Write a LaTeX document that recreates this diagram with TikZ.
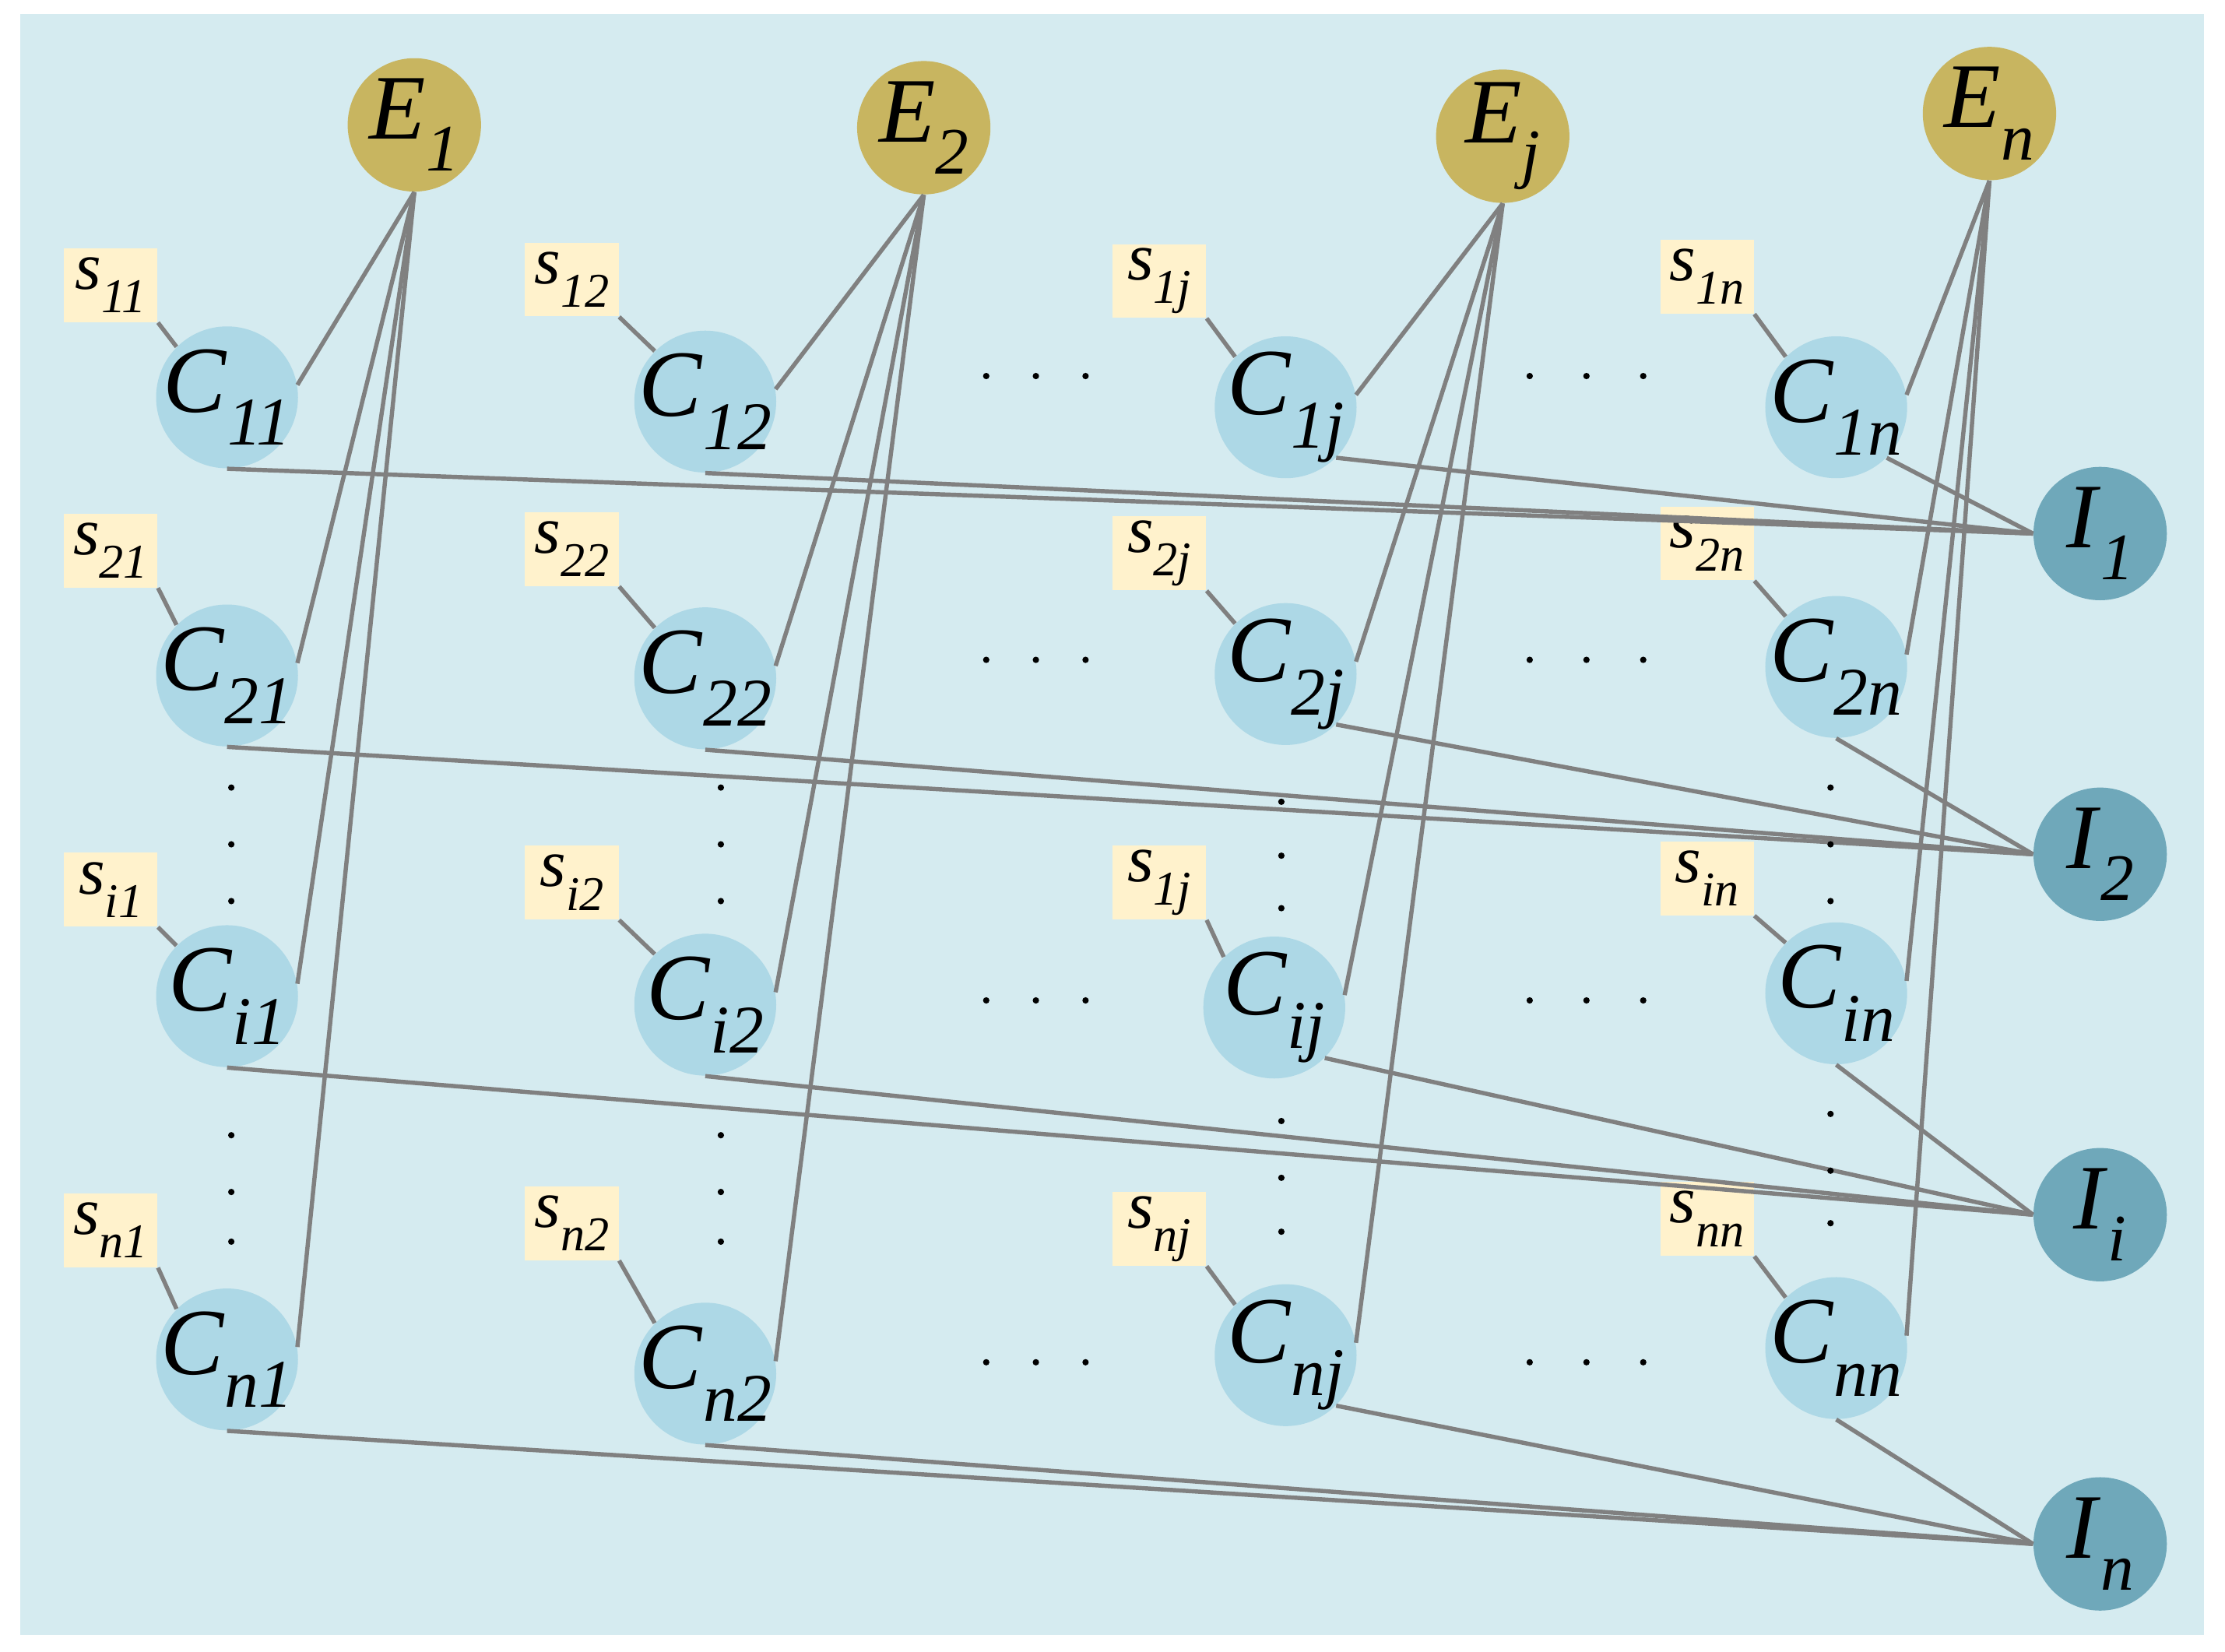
\documentclass[tikz,border=0pt]{standalone}
\usepackage{fontspec}
\setmainfont{Liberation Serif}
\definecolor{bg}{HTML}{D5EBF0}
\definecolor{cc}{HTML}{ADD8E6}
\definecolor{ee}{HTML}{C8B560}
\definecolor{ii}{HTML}{6FA8BA}
\definecolor{ss}{HTML}{FFF2CC}
\definecolor{ln}{HTML}{808080}
\newcommand{\lb}[2]{\textit{#1}\raisebox{-0.35em}{\scalebox{0.72}{\textit{#2}}}}
\begin{document}
\begin{tikzpicture}[x=0.02cm,y=-0.02cm,
 cnode/.style={circle,fill=cc,minimum size=2cm,inner sep=-20pt,font=\fontsize{38}{40}\selectfont},
 enode/.style={circle,fill=ee,minimum size=1.88cm,inner sep=-20pt,font=\fontsize{37}{39}\selectfont},
 inode/.style={circle,fill=ii,minimum size=1.88cm,inner sep=-20pt,font=\fontsize{37}{39}\selectfont},
 snode/.style={fill=ss,minimum width=1.32cm,minimum height=1.04cm,inner sep=0pt,font=\fontsize{27}{29}\selectfont},
 ed/.style={draw=ln,line width=1.7pt},
 dt/.style={circle,fill=black,inner sep=0pt,minimum size=0.09cm}]
\useasboundingbox (0,0) rectangle (1568,1164);
\fill[bg] (14,10) rectangle (1553,1152);
% E nodes
\node[enode] (E1) at (292,88) {\lb{E}{1}};
\node[enode] (E2) at (651,90) {\lb{E}{2}};
\node[enode] (E3) at (1059,96) {\lb{E}{j}};
\node[enode] (E4) at (1402,80) {\lb{E}{n}};
% I nodes
\node[inode] (I1) at (1480,376) {\lb{I}{1}};
\node[inode] (I2) at (1480,602) {\lb{I}{2}};
\node[inode] (I3) at (1480,856) {\lb{I}{i}};
\node[inode] (I4) at (1480,1088) {\lb{I}{n}};
% C nodes and s boxes
\foreach \r/\c/\x/\y/\lab/\sx/\sy/\slab in {
 1/1/160/280/11/78/201/11, 1/2/497/283/12/403/197/12, 1/3/906/287/1j/817/198/1j, 1/4/1294/287/1n/1203/195/1n,
 2/1/160/476/21/78/388/21, 2/2/497/478/22/403/387/22, 2/3/906/475/2j/817/390/2j, 2/4/1294/470/2n/1203/383/2n,
 3/1/160/702/i1/78/627/i1, 3/2/497/708/i2/403/622/i2, 3/3/898/710/ij/817/622/1j, 3/4/1294/700/in/1203/619/in,
 4/1/160/958/n1/78/867/n1, 4/2/497/968/n2/403/862/n2, 4/3/906/955/nj/817/866/nj, 4/4/1294/950/nn/1203/859/nn}{
 \node[cnode] (C\r\c) at (\x,\y) {\lb{C}{\lab}};
 \node[snode] (S\r\c) at (\sx,\sy) {\lb{s}{\slab}};
 \draw[ed] (S\r\c.south east) -- (C\r\c.135);
}
% E to C
\foreach \c in {1,2,3,4}{\foreach \r in {1,2,3,4}{\draw[ed] (E\c.south) -- (C\r\c.10);}}
% C to I
\foreach \r in {1,2,3,4}{
 \draw[ed] (C\r1.south) -- (I\r.west);
 \draw[ed] (C\r2.south) -- (I\r.west);
 \draw[ed] (C\r3.south east) -- (I\r.west);
}
\draw[ed] (C14.south east) -- (I1.west);
\foreach \r in {2,3,4}{\draw[ed] (C\r4.south) -- (I\r.west);}
% vertical dots
\foreach \x/\a/\b/\c/\d/\e/\f in {163/555/595/635/800/840/875, 508/555/595/635/800/840/875, 903/565/603/640/790/830/868, 1290/555/595/635/785/825/862}{
 \foreach \y in {\a,\b,\c,\d,\e,\f}{\node[dt] at (\x,\y) {};}
}
% horizontal dots
\foreach \y in {265,465,705,960}{
 \foreach \x in {695,730,765,1078,1118,1158}{\node[dt] at (\x,\y) {};}
}
\end{tikzpicture}
\end{document}
